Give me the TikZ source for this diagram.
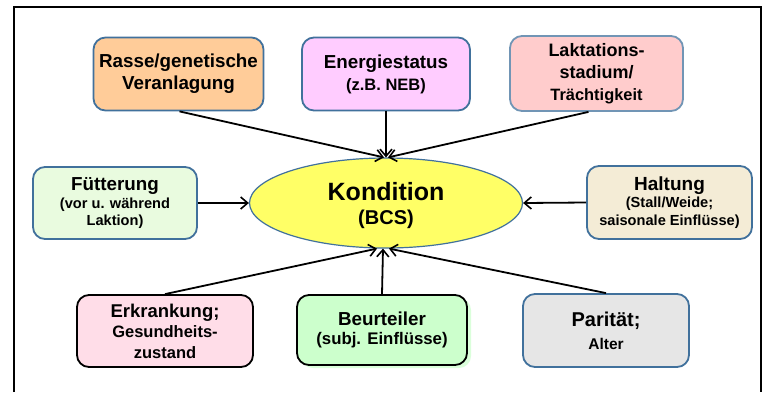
\documentclass[tikz,border=0pt]{standalone}
\usepackage{fontspec}
\setmainfont{Liberation Sans}
\usetikzlibrary{arrows.meta,shapes.geometric,calc}
\newcommand\fsz[2]{\fontsize{#1}{#2}\selectfont}
\definecolor{bblue}{HTML}{41719C}
\definecolor{cOrange}{HTML}{FFCC99}
\definecolor{cMagenta}{HTML}{FFCCFF}
\definecolor{cRose}{HTML}{FFCCCC}
\definecolor{cMint}{HTML}{E9FBDF}
\definecolor{cBeige}{HTML}{F4ECD6}
\definecolor{cPink}{HTML}{FFDDE8}
\definecolor{cGreen}{HTML}{CCFFCC}
\definecolor{cGrey}{HTML}{E6E6E6}
\definecolor{cYellow}{HTML}{FFFF66}
\tikzset{
  factor/.style={draw=bblue, line width=1.8pt, rounded corners=12pt, align=center,
    inner sep=2pt},
  blackfactor/.style={factor, draw=black},
  influence/.style={-{Straight Barb[length=7pt,width=12pt,line width=1.6pt]}, line width=1.8pt, black},
}
\begin{document}
\begin{tikzpicture}[x=1pt,y=-1pt]
\useasboundingbox (0,0) rectangle (768,392);
\fill[white] (0,0) rectangle (768,392);
% frame
\draw[line width=1.1pt] (14,392) -- (14,7) -- (761,7) -- (761,392);

% centre
\node[ellipse, draw=bblue, line width=1.2pt, fill=cYellow, minimum width=273pt, minimum height=90pt,
  font=\bfseries\fsz{20}{24}, inner sep=0pt] (k) at (386,203)
  {\raisebox{-9pt}[0pt][0pt]{\begin{tabular}{@{}c@{}}{\fsz{25}{28}Kondition}\\(BCS)\end{tabular}}};

% factors
\node[factor, fill=cOrange, minimum width=170pt, minimum height=73pt,
  font=\bfseries\fsz{18.8}{22}] (r) at (178.5,74)
  {Rasse/genetische\\Veranlagung};
\node[factor, fill=cMagenta, minimum width=168pt, minimum height=73pt,
  font=\bfseries\fsz{18.8}{22}] (e) at (386,74)
  {Energiestatus\\{\fsz{16.5}{20}(z.B. NEB)}};
\node[factor, draw=bblue!75, fill=cRose, minimum width=173pt, minimum height=75pt,
  font=\bfseries\fsz{18}{22}] (l) at (596.5,73.5)
  {Laktations-\\stadium/\\{\fsz{16.4}{20}Trächtigkeit}};
\node[factor, fill=cMint, minimum width=164pt, minimum height=72pt,
  font=\bfseries\fsz{14.6}{17.5}] (f) at (115,203)
  {{\fsz{18.8}{21}Fütterung}\\(vor u. während\\Laktion)};
\node[factor, fill=cBeige, minimum width=165pt, minimum height=73pt,
  font=\bfseries\fsz{14.6}{17.5}] (h) at (669.5,202.5)
  {{\fsz{19}{21}Haltung}\\(Stall/Weide;\\saisonale Einflüsse)};
\node[blackfactor, fill=cPink, minimum width=176pt, minimum height=72pt,
  font=\bfseries\fsz{16.5}{20.5}] (g) at (165,331)
  {{\fsz{18.5}{21}Erkrankung;}\\Gesundheits-\\zustand};
\fill[cGreen!70, rounded corners=12pt] (301,298) rectangle (471,368);
\node[blackfactor, fill=cGreen, minimum width=170pt, minimum height=70pt,
  font=\bfseries\fsz{16.8}{19.5}] (b) at (382,330)
  {{\fsz{18.8}{22}Beurteiler}\\(subj. Einflüsse)};
\node[factor, fill=cGrey, minimum width=166pt, minimum height=73pt,
  font=\bfseries\fsz{15.5}{23}] (p) at (606,330.5)
  {{\fsz{20}{23}Parität;}\\Alter};

% connectors
\draw[influence] ($(r.south)+(1,0)$) -- ($(k.north)+(-2,0)$);
\draw[influence] (e.south) -- (k.north);
\draw[influence] ($(l.south)+(-8,0)$) -- ($(k.north)+(2,0)$);
\draw[influence] (f.east) -- (k.west);
\draw[influence] (h.west) -- (k.east);
\draw[influence] (g.north) -- ($(k.south)+(-9,0)$);
\draw[influence] (b.north) -- ($(k.south)+(-3,0)$);
\draw[influence] (p.north) -- ($(k.south)+(3,0)$);
\end{tikzpicture}
\end{document}
